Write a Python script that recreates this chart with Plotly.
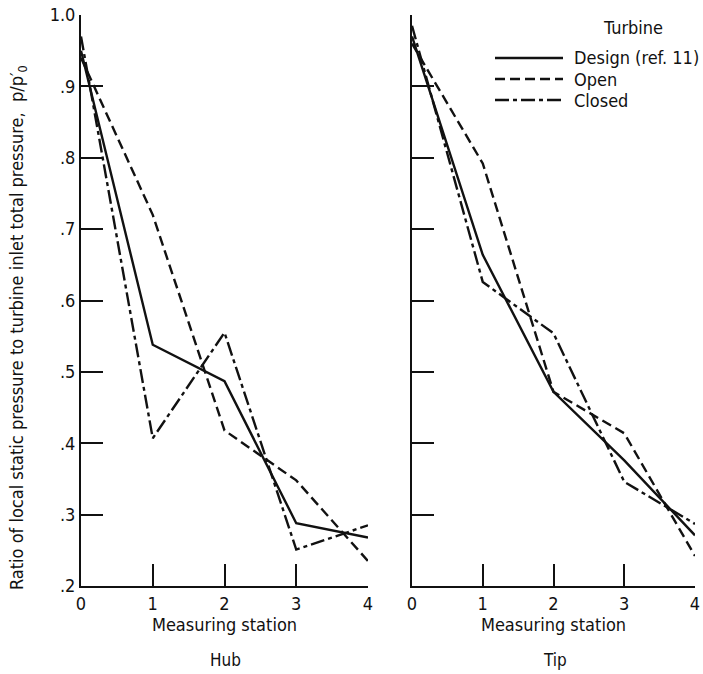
import plotly.graph_objects as go

# Measuring stations along the passage
stations = [0, 1, 2, 3, 4]

# Static-to-inlet-total pressure ratio, hub
hub_design = [0.95, 0.538, 0.487, 0.288, 0.268]
hub_open = [0.94, 0.72, 0.418, 0.348, 0.235]
hub_closed = [0.97, 0.407, 0.555, 0.251, 0.285]

# Static-to-inlet-total pressure ratio, tip
tip_design = [0.97, 0.664, 0.472, 0.376, 0.271]
tip_open = [0.96, 0.792, 0.472, 0.414, 0.242]
tip_closed = [0.985, 0.626, 0.554, 0.346, 0.287]

y_ticks = [0.2, 0.3, 0.4, 0.5, 0.6, 0.7, 0.8, 0.9, 1.0]
y_tick_text = [".2", ".3", ".4", ".5", ".6", ".7", ".8", ".9", "1.0"]
x_ticks = [0, 1, 2, 3, 4]
x_tick_text = ["0", "1", "2", "3", "4"]

series_names = ["Design (ref. 11)", "Open", "Closed"]
dashes = ["solid", "10px,5px", "14px,4px,4px,4px"]

W, H = 703, 674
FONT = "Liberation Sans Narrow, DejaVu Sans Condensed, sans-serif"
INK = "#111111"


def px_x(p):
    return p / W


def px_y(p):
    return 1 - p / H


fig = go.Figure()

panels = [
    ("x", "y", [hub_design, hub_open, hub_closed]),
    ("x2", "y2", [tip_design, tip_open, tip_closed]),
]
for xa, ya, series in panels:
    for name, vals, dash in zip(series_names, series, dashes):
        fig.add_trace(go.Scatter(
            x=stations, y=vals, mode="lines", name=name,
            xaxis=xa, yaxis=ya, showlegend=False,
            line=dict(color=INK, width=2.4, dash=dash),
        ))

y_bottom, y_top = px_y(586), px_y(15)
common_x = dict(
    range=[0, 4], tickvals=x_ticks, ticktext=x_tick_text,
    ticks="inside", ticklen=22, tickwidth=2, tickcolor=INK,
    showline=True, linecolor=INK, linewidth=2,
    showgrid=False, zeroline=False, automargin=False,
    tickfont=dict(family=FONT, size=18, color=INK),
    title=dict(text="Measuring station", standoff=0,
               font=dict(family=FONT, size=18, color=INK)),
)
common_y = dict(
    range=[0.2, 1.0], tickvals=y_ticks, ticktext=y_tick_text,
    ticks="inside", ticklen=22, tickwidth=2, tickcolor=INK,
    showline=True, linecolor=INK, linewidth=2,
    showgrid=False, zeroline=False, automargin=False,
    tickfont=dict(family=FONT, size=18, color=INK),
)

fig.update_layout(
    width=W, height=H,
    margin=dict(l=0, r=0, t=0, b=0),
    paper_bgcolor="white", plot_bgcolor="white",
    xaxis=dict(domain=[px_x(81), px_x(368)], anchor="y", **common_x),
    yaxis=dict(domain=[y_bottom, y_top], anchor="x", **common_y),
    xaxis2=dict(domain=[px_x(412), px_x(695)], anchor="y2", **common_x),
    yaxis2=dict(domain=[y_bottom, y_top], anchor="x2",
                showticklabels=False, **{k: v for k, v in common_y.items()
                                          if k != "tickfont"}),
)

annotations = [
    dict(text="Ratio of local static pressure to turbine inlet total pressure,  p/p′<sub>0</sub>",
         x=px_x(18), y=px_y(328), textangle=-90,
         font=dict(family=FONT, size=18, color=INK)),
    dict(text="Hub", x=px_x(225), y=px_y(660),
         font=dict(family=FONT, size=17, color=INK)),
    dict(text="Tip", x=px_x(555), y=px_y(660),
         font=dict(family=FONT, size=17, color=INK)),
    dict(text="Turbine", x=px_x(633), y=px_y(28),
         font=dict(family=FONT, size=18, color=INK)),
]
legend_rows = [58, 79, 100]
shapes = []
for name, dash, yy in zip(series_names, dashes, legend_rows):
    shapes.append(dict(type="line", xref="paper", yref="paper",
                       x0=px_x(495), x1=px_x(563), y0=px_y(yy), y1=px_y(yy),
                       line=dict(color=INK, width=2.4, dash=dash)))
    annotations.append(dict(text=name, x=px_x(572), y=px_y(yy),
                            xanchor="left",
                            font=dict(family=FONT, size=18, color=INK)))

for a in annotations:
    a.update(xref="paper", yref="paper", showarrow=False)
    a.setdefault("xanchor", "center")
    a.setdefault("yanchor", "middle")

fig.update_layout(annotations=annotations, shapes=shapes)

fig.write_html("out.html")
